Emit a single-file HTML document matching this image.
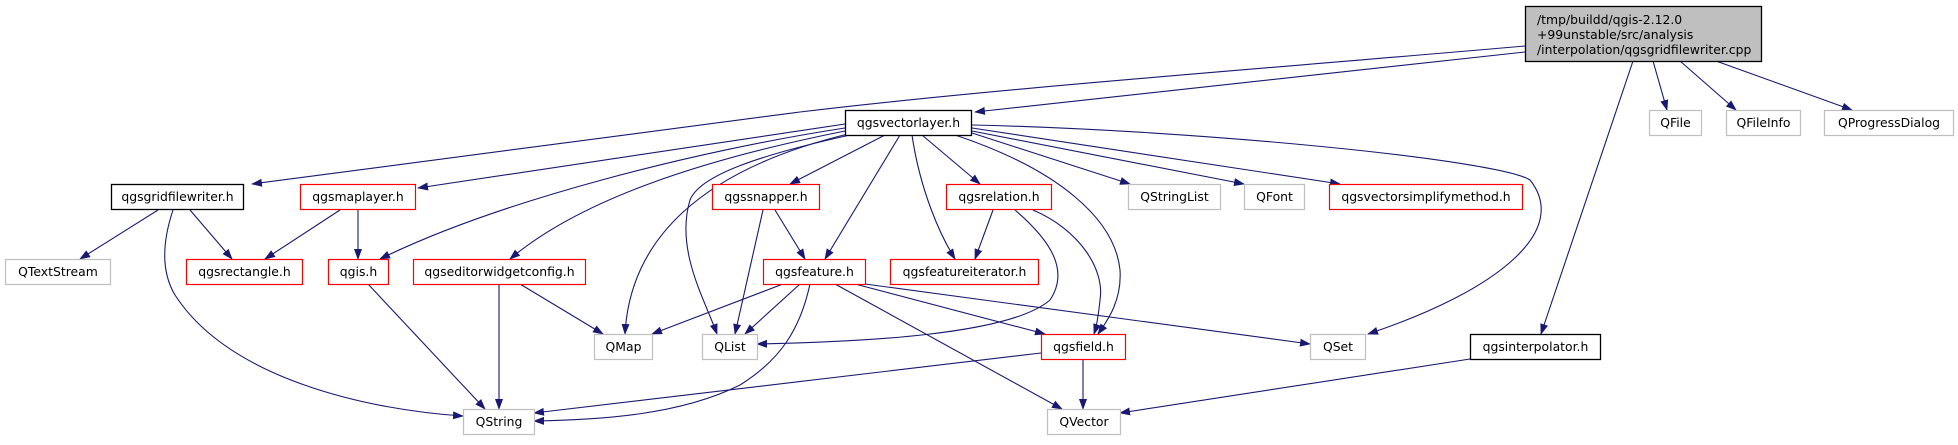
<!DOCTYPE html>
<html><head><meta charset="utf-8"><style>
html,body{margin:0;padding:0;background:#fff;}
svg text{font-family:"DejaVu Sans","Liberation Sans",sans-serif;font-size:12.4px;fill:#000;}
</style></head><body>
<svg width="1958" height="440" viewBox="0 0 1958 440" xmlns="http://www.w3.org/2000/svg">
<defs>
<marker id="a" markerWidth="11" markerHeight="8" refX="10" refY="4" orient="auto" markerUnits="userSpaceOnUse">
<path d="M0,0 L11,4 L0,8 z" fill="#191970"/>
</marker>
</defs>
<g fill="none" stroke="#191970" stroke-width="1.1" marker-end="url(#a)">
<path d="M1525,46 C1250,70 1000,88 800,112 C600,137 400,165 252,184"/>
<path d="M1525,52 L975,112"/>
<path d="M1653,61 L1667,110"/>
<path d="M1680,61 L1736,110"/>
<path d="M1716,61 L1852,110"/>
<path d="M1633,61 L1541,334"/>
<path d="M845,124 L418,188"/>
<path d="M845,128 C700,150 500,200 380,259"/>
<path d="M845,131 C700,160 580,200 510,259"/>
<path d="M848,134 C700,170 630,240 625,334"/>
<path d="M850,135 C760,155 700,175 690,200 C675,250 705,300 717,334"/>
<path d="M885,135 L790,184"/>
<path d="M900,135 L825,259"/>
<path d="M912,135 C920,190 940,235 955,259"/>
<path d="M922,135 L980,184"/>
<path d="M955,135 C1060,170 1115,220 1120,270 C1122,300 1108,320 1098,334"/>
<path d="M972,133 L1130,184"/>
<path d="M972,131 L1244,184"/>
<path d="M972,128 L1340,184"/>
<path d="M972,125 C1200,130 1500,160 1530,180 C1570,230 1500,290 1368,334"/>
<path d="M340,210 L265,259"/>
<path d="M358,210 L358,259"/>
<path d="M158,210 L80,259"/>
<path d="M190,210 L232,259"/>
<path d="M173,210 C163,240 160,270 175,295 C230,380 370,410 463,416"/>
<path d="M368,284 L485,409"/>
<path d="M499,284 L499,409"/>
<path d="M520,284 L603,334"/>
<path d="M763,210 L735,334"/>
<path d="M775,210 L805,259"/>
<path d="M993,210 L975,259"/>
<path d="M1015,210 C1050,240 1070,270 1050,300 C1010,335 860,342 757,344"/>
<path d="M1033,210 C1080,230 1105,270 1100,300 C1098,320 1096,328 1094,334"/>
<path d="M783,284 L652,334"/>
<path d="M800,284 L745,334"/>
<path d="M810,284 C800,330 780,360 740,385 C680,415 600,420 534,421"/>
<path d="M855,284 L1045,334"/>
<path d="M865,284 L1310,344"/>
<path d="M835,284 L1062,409"/>
<path d="M1041,353 L534,413"/>
<path d="M1083,359 L1083,409"/>
<path d="M1470,359 L1120,413"/>
</g>
<g stroke-width="1.3">
<rect x="1525.5" y="6.5" width="236" height="55" fill="#bfbfbf" stroke="#000"/>
<rect x="845.5" y="110.5" width="126" height="25" fill="#fff" stroke="#000"/>
<rect x="111.5" y="184.5" width="132" height="25" fill="#fff" stroke="#000"/>
<rect x="1470.5" y="334.5" width="130" height="25" fill="#fff" stroke="#000"/>
</g>
<g fill="#fff" stroke="#ff0000" stroke-width="1.2">
<rect x="300.5" y="184.5" width="115" height="25"/>
<rect x="712.5" y="184.5" width="107" height="25"/>
<rect x="946.5" y="184.5" width="105" height="25"/>
<rect x="1329.5" y="184.5" width="193" height="25"/>
<rect x="186.5" y="259.5" width="116" height="25"/>
<rect x="328.5" y="259.5" width="60" height="25"/>
<rect x="413.5" y="259.5" width="172" height="25"/>
<rect x="763.5" y="259.5" width="102" height="25"/>
<rect x="890.5" y="259.5" width="148" height="25"/>
<rect x="1041.5" y="334.5" width="84" height="25"/>
</g>
<g fill="#fff" stroke="#bfbfbf" stroke-width="1.2">
<rect x="1649.5" y="110.5" width="52" height="25"/>
<rect x="1726.5" y="110.5" width="74" height="25"/>
<rect x="1824.5" y="110.5" width="129" height="25"/>
<rect x="1128.5" y="184.5" width="92" height="25"/>
<rect x="1244.5" y="184.5" width="60" height="25"/>
<rect x="5.5" y="259.5" width="105" height="25"/>
<rect x="594.5" y="334.5" width="58" height="25"/>
<rect x="702.5" y="334.5" width="55" height="25"/>
<rect x="1310.5" y="334.5" width="55" height="25"/>
<rect x="463.5" y="409.5" width="71" height="25"/>
<rect x="1047.5" y="409.5" width="73" height="25"/>
</g>
<text x="1537" y="24">/tmp/buildd/qgis-2.12.0</text>
<text x="1537" y="39">+99unstable/src/analysis</text>
<text x="1537" y="54">/interpolation/qgsgridfilewriter.cpp</text>
<g text-anchor="middle">
<text x="908.5" y="127">qgsvectorlayer.h</text>
<text x="177.5" y="201">qgsgridfilewriter.h</text>
<text x="1535.5" y="351">qgsinterpolator.h</text>
<text x="358" y="201">qgsmaplayer.h</text>
<text x="766" y="201">qgssnapper.h</text>
<text x="999" y="201">qgsrelation.h</text>
<text x="1426" y="201">qgsvectorsimplifymethod.h</text>
<text x="244.5" y="276">qgsrectangle.h</text>
<text x="358.5" y="276">qgis.h</text>
<text x="499.5" y="276">qgseditorwidgetconfig.h</text>
<text x="814.5" y="276">qgsfeature.h</text>
<text x="964.5" y="276">qgsfeatureiterator.h</text>
<text x="1083.5" y="351">qgsfield.h</text>
<text x="1675.5" y="127">QFile</text>
<text x="1763.5" y="127">QFileInfo</text>
<text x="1889" y="127">QProgressDialog</text>
<text x="1174.5" y="201">QStringList</text>
<text x="1274.5" y="201">QFont</text>
<text x="58" y="276">QTextStream</text>
<text x="623.5" y="351">QMap</text>
<text x="730" y="351">QList</text>
<text x="1338" y="351">QSet</text>
<text x="499" y="426">QString</text>
<text x="1084" y="426">QVector</text>
</g>
</svg>
</body></html>
